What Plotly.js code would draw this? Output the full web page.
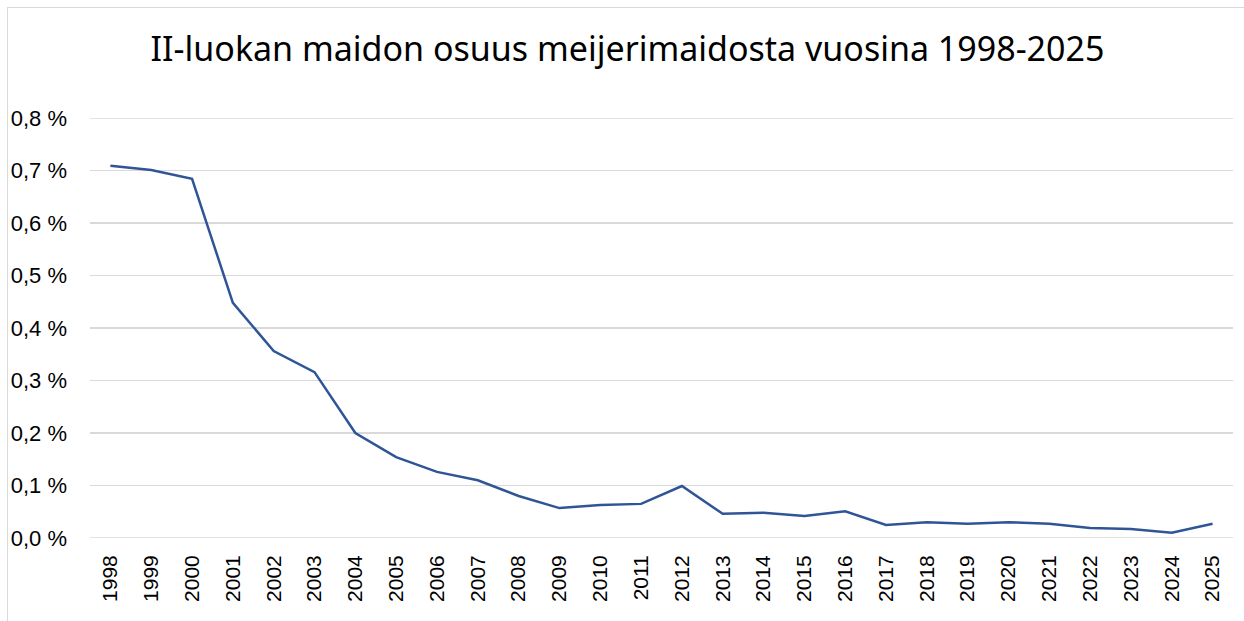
<!DOCTYPE html>
<html><head><meta charset="utf-8">
<script src="https://cdn.plot.ly/plotly-3.0.1.min.js"></script>
<style>
html,body{margin:0;padding:0;background:#fff;}
#frame{position:absolute;left:7px;top:7px;width:1240px;height:620px;border:1px solid #d9d9d9;box-sizing:border-box;}
#chart{position:absolute;left:0;top:0;width:1244px;height:621px;}
</style></head>
<body>
<div id="frame"></div>
<div id="chart"></div>
<script>
const years = ["1998","1999","2000","2001","2002","2003","2004","2005","2006","2007","2008","2009","2010","2011","2012","2013","2014","2015","2016","2017","2018","2019","2020","2021","2022","2023","2024","2025"];
const share = [0.709,0.701,0.684,0.448,0.356,0.316,0.200,0.154,0.126,0.110,0.080,0.057,0.063,0.065,0.099,0.046,0.048,0.042,0.051,0.025,0.030,0.027,0.030,0.027,0.019,0.017,0.010,0.027];
const yTickVals = [0,0.1,0.2,0.3,0.4,0.5,0.6,0.7,0.8];
const yTickText = ["0,0 %","0,1 %","0,2 %","0,3 %","0,4 %","0,5 %","0,6 %","0,7 %","0,8 %"];
const titleText = "II-luokan maidon osuus meijerimaidosta vuosina 1998-2025";

const yMin = yTickVals[0], yMax = yTickVals[yTickVals.length - 1];
const edgeLines = [yMin, yMax].map(v => ({
  type: "line", xref: "paper", yref: "y", x0: 0, x1: 1, y0: v, y1: v,
  line: {color: "#d9d9d9", width: 1.5}, layer: "below"
}));

Plotly.newPlot("chart", [{
  x: years, y: share, type: "scatter", mode: "lines",
  line: {color: "#2f5597", width: 2.5}, hoverinfo: "x+y"
}], {
  width: 1244, height: 621,
  paper_bgcolor: "rgba(0,0,0,0)", plot_bgcolor: "rgba(0,0,0,0)",
  margin: {l: 90, r: 11, t: 118, b: 83},
  showlegend: false,
  shapes: edgeLines,
  title: {text: titleText, x: 0.5044, xanchor: "center", y: 0.921, yanchor: "middle",
          font: {family: "Noto Sans, Open Sans, sans-serif", size: 34, color: "#000"}},
  xaxis: {type: "category", range: [-0.5, 27.5], showgrid: false, zeroline: false,
          showline: false, ticks: "", tickangle: -90, ticklabelstandoff: 12,
          tickfont: {family: "Liberation Sans, Arial, sans-serif", size: 21, color: "#000"}},
  yaxis: {range: [yMin, yMax], tickvals: yTickVals, ticktext: yTickText,
          showgrid: true, gridcolor: "#d9d9d9", gridwidth: 1.5, zeroline: false,
          showline: false, ticks: "", ticklabelstandoff: 22,
          tickfont: {family: "Liberation Sans, Arial, sans-serif", size: 22, color: "#000"}}
}, {displayModeBar: false, staticPlot: true});
</script>
</body></html>
